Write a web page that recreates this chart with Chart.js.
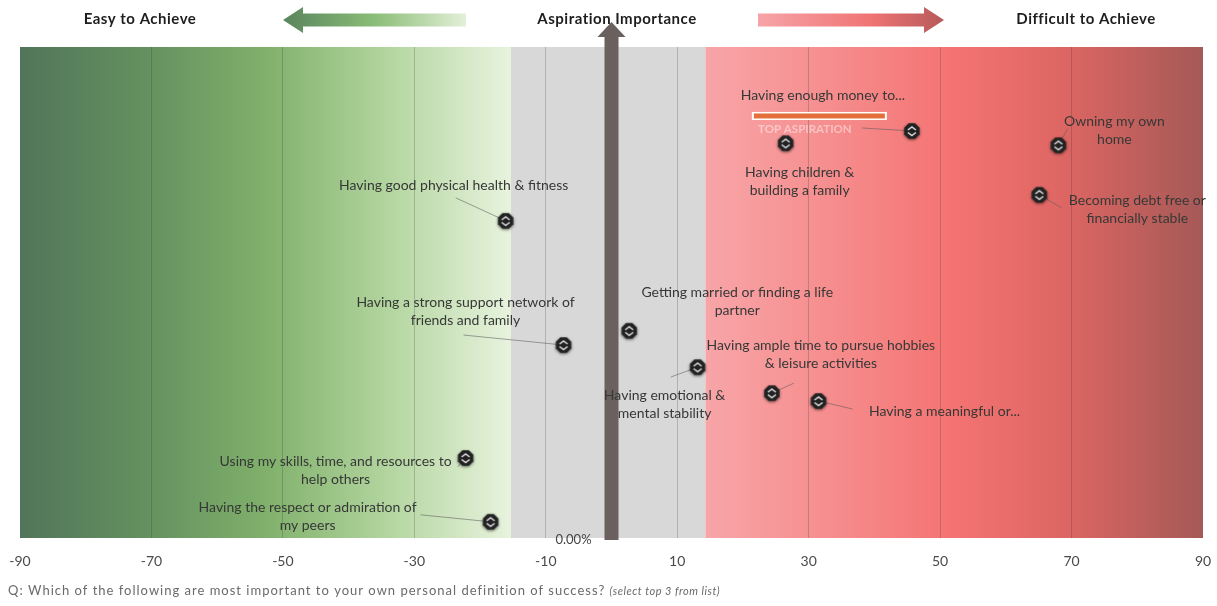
<!DOCTYPE html>
<html>
<head>
<meta charset="utf-8">
<script src="https://cdn.jsdelivr.net/npm/chart.js@4.4.0/dist/chart.umd.min.js"></script>
<style>
  html, body { margin: 0; padding: 0; background: #fff; }
  #wrap { width: 1217px; height: 606px; position: relative; }
</style>
</head>
<body>
<div id="wrap"><canvas id="aspChart"></canvas></div>
<script>
// aspirations (label lines)
const aspirations = [
    ['Having good physical health & fitness'],
    ['Having a strong support network of', 'friends and family'],
    ['Getting married or finding a life', 'partner'],
    ['Having emotional &', 'mental stability'],
    ['Having ample time to pursue hobbies', '& leisure activities'],
    ['Having a meaningful or...'],
    ['Using my skills, time, and resources to', 'help others'],
    ['Having the respect or admiration of', 'my peers'],
    ['Having enough money to...'],
    ['Having children &', 'building a family'],
    ['Owning my own', 'home'],
    ['Becoming debt free or', 'financially stable']
];
// x: easy (-) / difficult (+) to achieve
const difficulty = [-16.1, -7.3, 2.7, 13.1, 24.4, 31.5, -22.2, -18.4, 45.7, 26.5, 68.0, 65.1];
// y: aspiration importance
const importance = [64.6, 39.3, 42.2, 34.8, 29.5, 27.9, 16.3, 3.3, 82.9, 80.4, 80.0, 69.9];
const xTicks = [-90, -70, -50, -30, -10, 10, 30, 50, 70, 90];
const topAspiration = 8;

// label placement: [dx, dy of first line centre, leader end dx, dy] in px from the point
const labelPos = [
    [-52, -35, -50, -23],
    [-98, -43, -100, -10],
    [108, -38, null, null],
    [-33, 28, -27, 10],
    [49, -48, 22, -10],
    [126, 10, 34, 8],
    [-130, 4, -8, 9],
    [-183, -14, -70, -7],
    [-89, -35, -50, -3],
    [14, 29, null, null],
    [56, -24, 9, -16],
    [98, 6, 22, 13]
];

const FONT = 'Lato, "Open Sans", sans-serif';

// marker icon
const marker = document.createElement('canvas');
marker.width = 24; marker.height = 24;
(function () {
    const c = marker.getContext('2d');
    c.save();
    c.shadowColor = 'rgba(0,0,0,0.6)';
    c.shadowBlur = 3;
    c.shadowOffsetY = 1;
    c.fillStyle = '#222';
    c.beginPath();
    const cx = 12, cy = 12, r = 8.3;
    for (let k = 0; k < 8; k++) {
        const a = Math.PI / 8 + k * Math.PI / 4;
        const px = cx + r * Math.cos(a), py = cy + r * Math.sin(a);
        k === 0 ? c.moveTo(px, py) : c.lineTo(px, py);
    }
    c.closePath();
    c.fill();
    c.restore();
    c.strokeStyle = '#dcdcdc';
    c.lineWidth = 1.5;
    c.beginPath();
    c.moveTo(8, 11); c.lineTo(12, 8); c.lineTo(16, 11);
    c.moveTo(8, 13.5); c.lineTo(12, 16.5); c.lineTo(16, 13.5);
    c.stroke();
})();

function arrow(ctx, x1, x2, y, h, headW, headH, grad, dir) {
    ctx.fillStyle = grad;
    ctx.beginPath();
    if (dir < 0) {
        ctx.moveTo(x1, y);
        ctx.lineTo(x1 + headW, y - headH / 2);
        ctx.lineTo(x1 + headW, y - h / 2);
        ctx.lineTo(x2, y - h / 2);
        ctx.lineTo(x2, y + h / 2);
        ctx.lineTo(x1 + headW, y + h / 2);
        ctx.lineTo(x1 + headW, y + headH / 2);
    } else {
        ctx.moveTo(x2, y);
        ctx.lineTo(x2 - headW, y - headH / 2);
        ctx.lineTo(x2 - headW, y - h / 2);
        ctx.lineTo(x1, y - h / 2);
        ctx.lineTo(x1, y + h / 2);
        ctx.lineTo(x2 - headW, y + h / 2);
        ctx.lineTo(x2 - headW, y + headH / 2);
    }
    ctx.closePath();
    ctx.fill();
}

const backdrop = {
    id: 'backdrop',
    beforeDraw(chart) {
        const { ctx, chartArea: a, scales: { x } } = chart;
        ctx.save();
        ctx.fillStyle = '#fff';
        ctx.fillRect(0, 0, chart.width, chart.height);
        const gL = x.getPixelForValue(-15.3), gR = x.getPixelForValue(14.3);
        // easy zone
        let g = ctx.createLinearGradient(a.left, 0, gL, 0);
        g.addColorStop(0, '#52755a');
        g.addColorStop(0.25, '#63905f');
        g.addColorStop(0.5, '#80b06b');
        g.addColorStop(0.75, '#b3d59f');
        g.addColorStop(1, '#e8f3de');
        ctx.fillStyle = g;
        ctx.fillRect(a.left, a.top, gL - a.left, a.bottom - a.top);
        // neutral zone
        ctx.fillStyle = '#d9d8d9';
        ctx.fillRect(gL, a.top, gR - gL, a.bottom - a.top);
        // difficult zone
        g = ctx.createLinearGradient(gR, 0, a.right, 0);
        g.addColorStop(0, '#f8a5a8');
        g.addColorStop(0.22, '#f69091');
        g.addColorStop(0.5, '#f47372');
        g.addColorStop(0.72, '#dd6663');
        g.addColorStop(1, '#a55957');
        ctx.fillStyle = g;
        ctx.fillRect(gR, a.top, a.right - gR, a.bottom - a.top);
        ctx.restore();
    },
    beforeDatasetsDraw(chart) {
        const { ctx, chartArea: a, scales: { x, y } } = chart;
        const x0 = x.getPixelForValue(0);
        ctx.save();
        // central importance arrow
        ctx.fillStyle = '#6a605d';
        ctx.beginPath();
        ctx.moveTo(x0 - 7, a.bottom + 2);
        ctx.lineTo(x0 - 7, 37);
        ctx.lineTo(x0 - 14, 37);
        ctx.lineTo(x0, 22);
        ctx.lineTo(x0 + 14, 37);
        ctx.lineTo(x0 + 7, 37);
        ctx.lineTo(x0 + 7, a.bottom + 2);
        ctx.closePath();
        ctx.fill();

        // top aspiration marker
        const tx = x.getPixelForValue(difficulty[topAspiration]);
        const ty = y.getPixelForValue(importance[topAspiration]);
        ctx.fillStyle = '#fff';
        ctx.fillRect(tx - 160, ty - 19, 135, 8);
        ctx.fillStyle = '#e46f3a';
        ctx.fillRect(tx - 158, ty - 17.5, 131, 5);
        ctx.font = 'bold 11.5px ' + FONT;
        ctx.fillStyle = 'rgba(255,255,255,0.45)';
        ctx.textAlign = 'center';
        ctx.textBaseline = 'middle';
        ctx.fillText('TOP ASPIRATION', tx - 107, ty - 2);

        // leaders and labels
        ctx.lineWidth = 1;
        ctx.font = '14px ' + FONT;
        aspirations.forEach((lines, i) => {
            const px = x.getPixelForValue(difficulty[i]);
            const py = y.getPixelForValue(importance[i]);
            const [dx, dy, lx, ly] = labelPos[i];
            if (lx !== null) {
                ctx.strokeStyle = 'rgba(90,90,90,0.55)';
                ctx.beginPath();
                ctx.moveTo(px, py);
                ctx.lineTo(px + lx, py + ly);
                ctx.stroke();
            }
            ctx.fillStyle = '#363836';
            lines.forEach((t, k) => ctx.fillText(t, px + dx, py + dy + k * 18));
        });
        ctx.restore();
    },
    afterDraw(chart) {
        const { ctx, chartArea: a, scales: { x } } = chart;
        ctx.save();
        ctx.textBaseline = 'middle';
        ctx.textAlign = 'center';
        ctx.font = 'bold 15px ' + FONT;
        ctx.letterSpacing = '0.5px';
        ctx.fillStyle = '#1e1e1e';
        ctx.fillText('Easy to Achieve', 140, 19);
        ctx.fillText('Aspiration Importance', 617, 19);
        ctx.fillText('Difficult to Achieve', 1086, 19);
        ctx.letterSpacing = '0px';

        let g = ctx.createLinearGradient(283, 0, 466, 0);
        g.addColorStop(0, '#5a855d');
        g.addColorStop(0.5, '#8abd77');
        g.addColorStop(1, '#e3f0d8');
        arrow(ctx, 283, 466, 20, 13, 20, 26, g, -1);
        g = ctx.createLinearGradient(758, 0, 944, 0);
        g.addColorStop(0, '#f7a4a8');
        g.addColorStop(0.6, '#f07474');
        g.addColorStop(1, '#b65a59');
        arrow(ctx, 758, 944, 20, 13, 20, 26, g, 1);

        ctx.font = '13px ' + FONT;
        ctx.fillStyle = '#444';
        ctx.fillText('0.00%', x.getPixelForValue(0) - 38, a.bottom + 2);

        ctx.textAlign = 'left';
        ctx.fillStyle = '#6a6a6a';
        ctx.font = '13px ' + FONT;
        ctx.letterSpacing = '1px';
        const q = 'Q: Which of the following are most important to your own personal definition of success? ';
        ctx.fillText(q, 8, 591);
        const w = ctx.measureText(q).width;
        ctx.font = 'italic 11px ' + FONT;
        ctx.letterSpacing = '0.5px';
        ctx.fillText('(select top 3 from list)', 8 + w, 591);
        ctx.restore();
    }
};

const aspChart = new Chart(document.getElementById('aspChart'), {
    type: 'scatter',
    data: {
        datasets: [{
            label: 'Aspirations',
            data: difficulty.map((d, i) => ({ x: d, y: importance[i] })),
            pointStyle: marker,
            radius: 9,
            hoverRadius: 9
        }]
    },
    options: {
        responsive: true,
        maintainAspectRatio: false,
        animation: false,
        layout: { padding: { top: 47, left: 20, right: 14, bottom: 0 } },
        plugins: {
            legend: { display: false },
            tooltip: { enabled: false }
        },
        scales: {
            x: {
                type: 'linear',
                min: -90,
                max: 90,
                afterBuildTicks: (s) => { s.ticks = xTicks.map(v => ({ value: v })); },
                afterFit: (s) => { s.height = 68; s.paddingLeft = 0; s.paddingRight = 0; },
                border: { display: false },
                grid: {
                    drawTicks: false,
                    color: (c) => (c.tick && Math.abs(c.tick.value) === 90) ? 'rgba(0,0,0,0)' : 'rgba(40,40,40,0.22)',
                    lineWidth: 1
                },
                ticks: {
                    padding: 15,
                    color: '#4a4a4a',
                    font: { family: FONT, size: 14 }
                }
            },
            y: {
                display: false,
                min: 0,
                max: 100
            }
        }
    },
    plugins: [backdrop]
});
</script>
</body>
</html>
